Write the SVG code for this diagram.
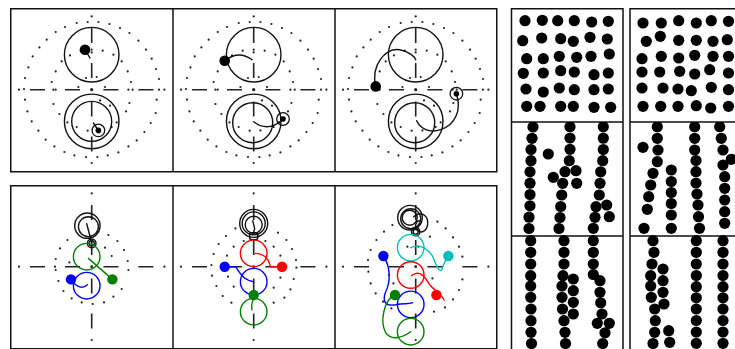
<svg xmlns="http://www.w3.org/2000/svg" xmlns:xlink="http://www.w3.org/1999/xlink" width="735" height="349" viewBox="0 0 735 349">
  <style>
    .frame { fill: #ffffff; stroke: #111; stroke-width: 1.5; }
    .axis { fill: none; stroke: #222; stroke-width: 1.6; }
    .pt { fill: #222; }
    .ring { fill: none; stroke: #111; stroke-width: 1.4; }
    .trail { fill: none; stroke-width: 1.4; stroke-linecap: round; }
    .disc { fill: #000; }
    .k { stroke: #111; }
    .g { stroke: #008000; }
    .gf { fill: #008000; }
    .b { stroke: #0000ff; }
    .bf { fill: #0000ff; }
    .r { stroke: #ff0000; }
    .rf { fill: #ff0000; }
    .c { stroke: #00bfbf; }
    .cf { fill: #00bfbf; }
  </style>
  <defs>
    <!-- dashed cross-hair through a panel centre -->
    <path id="cross" class="axis" d="M-61.7 0h15M-26.7 0h15M11.7 0h15M46.7 0h15M0 -61.7v15M0 -26.7v15M0 11.7v15M0 46.7v15"/>
    <!-- sample points of the upper panels -->
    <g id="topDots" class="pt">
      <circle cx="0" cy="-73.3" r="1.1"/><circle cx="-15" cy="-66.7" r="1.1"/><circle cx="-4" cy="-67.7" r="1.1"/>
      <circle cx="6.7" cy="-67.7" r="1.1"/><circle cx="17.7" cy="-65.7" r="1.1"/><circle cx="-26.7" cy="-62.7" r="1.1"/>
      <circle cx="28.3" cy="-61.7" r="1.1"/><circle cx="-36" cy="-57.7" r="1.1"/><circle cx="37.7" cy="-56.7" r="1.1"/>
      <circle cx="-45" cy="-50" r="1.1"/><circle cx="46.7" cy="-49" r="1.1"/><circle cx="-52.3" cy="-42.3" r="1.1"/>
      <circle cx="54.3" cy="-40" r="1.1"/><circle cx="-59" cy="-33.3" r="1.1"/><circle cx="60" cy="-31" r="1.1"/>
      <circle cx="-63.3" cy="-22.3" r="1.1"/><circle cx="64.3" cy="-20.7" r="1.1"/><circle cx="-66.7" cy="-11.7" r="1.1"/>
      <circle cx="67.3" cy="-10.7" r="1.1"/><circle cx="-72.7" cy="0" r="1.1"/><circle cx="-67.7" cy="-0.7" r="1.1"/>
      <circle cx="67.3" cy="0" r="1.1"/><circle cx="72.7" cy="0" r="1.1"/><circle cx="-66.7" cy="10" r="1.1"/>
      <circle cx="65" cy="10" r="1.1"/><circle cx="-64.3" cy="21.7" r="1.1"/><circle cx="64" cy="23.3" r="1.1"/>
      <circle cx="-60" cy="31.7" r="1.1"/><circle cx="59" cy="33.3" r="1.1"/><circle cx="-53.3" cy="41" r="1.1"/>
      <circle cx="52.7" cy="42.3" r="1.1"/><circle cx="-46" cy="50" r="1.1"/><circle cx="45" cy="50.7" r="1.1"/>
      <circle cx="-37.3" cy="56.7" r="1.1"/><circle cx="36.7" cy="56.7" r="1.1"/><circle cx="-27.3" cy="62.3" r="1.1"/>
      <circle cx="26.7" cy="62.7" r="1.1"/><circle cx="-17.3" cy="65.7" r="1.1"/><circle cx="16" cy="65.7" r="1.1"/>
      <circle cx="-5.7" cy="67.3" r="1.1"/><circle cx="5.7" cy="67.3" r="1.1"/><circle cx="0" cy="73.3" r="1.1"/>
      <circle cx="-21.7" cy="-34.3" r="1.1"/><circle cx="-30" cy="-28.3" r="1.1"/><circle cx="-36" cy="-18.3" r="1.1"/>
      <circle cx="-40" cy="-7.7" r="1.1"/><circle cx="-38.3" cy="0" r="1.1"/><circle cx="-36" cy="0" r="1.1"/>
      <circle cx="-38.3" cy="14.3" r="1.1"/><circle cx="-32.3" cy="24.3" r="1.1"/><circle cx="-24.3" cy="32.7" r="1.1"/>
      <circle cx="-15" cy="37.3" r="1.1"/><circle cx="-4" cy="41" r="1.1"/><circle cx="6.7" cy="40.7" r="1.1"/>
      <circle cx="8.3" cy="10.7" r="1.1"/><circle cx="18.3" cy="16" r="1.1"/><circle cx="30" cy="-28.3" r="1.1"/>
      <circle cx="36" cy="-18.3" r="1.1"/><circle cx="39.3" cy="-7.7" r="1.1"/><circle cx="36.7" cy="0" r="1.1"/>
      <circle cx="41" cy="0" r="1.1"/><circle cx="37.7" cy="13.3" r="1.1"/><circle cx="34.3" cy="21.7" r="1.1"/>
      <circle cx="25" cy="32.7" r="1.1"/><circle cx="20" cy="37.3" r="1.1"/><circle cx="0" cy="-40" r="1.1"/>
      <circle cx="0" cy="-37.3" r="1.1"/><circle cx="-11" cy="-39" r="1.1"/><circle cx="11" cy="-39" r="1.1"/>
      <circle cx="21.7" cy="-35" r="1.1"/><circle cx="-5.7" cy="-11.7" r="1.1"/><circle cx="5" cy="-12.7" r="1.1"/>
      <circle cx="-13.3" cy="-2.7" r="1.1"/><circle cx="13.3" cy="-2.7" r="1.1"/><circle cx="0" cy="0" r="1.6"/>
    </g>
    <!-- the four far points shared by the lower panels -->
    <g id="farDots" class="pt">
      <circle cx="0" cy="-73.3" r="1.1"/><circle cx="0" cy="73.3" r="1.1"/>
      <circle cx="-72.7" cy="0" r="1.1"/><circle cx="72.7" cy="0" r="1.1"/><circle cx="0" cy="0" r="1.4"/>
    </g>
    <!-- goal marker: ring with a filled centre -->
    <g id="goal">
      <circle r="6.3" fill="none" stroke="#111" stroke-width="1.3"/>
      <circle r="2.8" fill="#000"/>
    </g>
    <clipPath id="clipR1"><rect x="511.5" y="8.5" width="111.5" height="113.5"/></clipPath>
    <clipPath id="clipR2"><rect x="511.5" y="122" width="111.5" height="114"/></clipPath>
    <clipPath id="clipR3"><rect x="511.5" y="236" width="111.5" height="113"/></clipPath>
    <clipPath id="clipS1"><rect x="630" y="8.5" width="106" height="113.5"/></clipPath>
    <clipPath id="clipS2"><rect x="630" y="122" width="106" height="114"/></clipPath>
    <clipPath id="clipS3"><rect x="630" y="236" width="106" height="113"/></clipPath>
  </defs>

  <rect width="735" height="349" fill="#ffffff"/>

  <!-- upper row: single agent -->
  <g id="top-row-frame">
    <rect class="frame" x="10.75" y="8.75" width="486" height="163"/>
    <line x1="173" y1="8.75" x2="173" y2="171.75" stroke="#111" stroke-width="1.5"/>
    <line x1="335" y1="8.75" x2="335" y2="171.75" stroke="#111" stroke-width="1.5"/>
  </g>

  <g id="top-1" transform="translate(91.7 89.7)">
    <use href="#topDots"/>
    <use href="#cross"/>
    <circle class="ring" cx="0" cy="-35" r="27.3"/>
    <circle class="ring" cx="0" cy="31.7" r="27.3"/>
    <circle class="ring" cx="0" cy="31.7" r="20"/>
    <path class="trail k" d="M-6.7 -40L-1.7 -31.7"/>
    <circle class="disc" cx="-6.7" cy="-40" r="5.3"/>
    <path class="trail k" d="M1.7 33.3L6.3 40.3"/>
    <use href="#goal" x="6.7" y="40.7"/>
  </g>

  <g id="top-2" transform="translate(253.7 89.7)">
    <use href="#topDots"/>
    <use href="#cross"/>
    <circle class="ring" cx="0" cy="-35" r="27.3"/>
    <circle class="ring" cx="0" cy="31.7" r="27.3"/>
    <circle class="ring" cx="-1" cy="33" r="20"/>
    <path class="trail k" d="M-29 -29Q-15 -40 -1.7 -30"/>
    <circle class="disc" cx="-29" cy="-29" r="5.3"/>
    <path class="trail k" d="M0 32Q14 43 29 30"/>
    <use href="#goal" x="29.3" y="29.3"/>
  </g>

  <g id="top-3" transform="translate(415.7 89.7)">
    <use href="#topDots"/>
    <use href="#cross"/>
    <circle class="ring" cx="0" cy="-35" r="27.3"/>
    <circle class="ring" cx="0" cy="31.7" r="27.3"/>
    <circle class="ring" cx="-1" cy="33" r="20"/>
    <path class="trail k" d="M-40 -3.3C-45 -25 -30 -42 -16 -40C-6 -38 -1 -33 0 -30"/>
    <circle class="disc" cx="-40" cy="-3.3" r="5.3"/>
    <path class="trail k" d="M40.7 4C46 20 40 35 25 40C13 44 4 38 1 31"/>
    <use href="#goal" x="40.7" y="4"/>
  </g>

  <!-- lower row: several agents -->
  <g id="bottom-row-frame">
    <rect class="frame" x="10.75" y="185.75" width="486" height="163"/>
    <line x1="173" y1="185.75" x2="173" y2="349" stroke="#111" stroke-width="1.5"/>
    <line x1="335" y1="185.75" x2="335" y2="349" stroke="#111" stroke-width="1.5"/>
  </g>

  <g id="bottom-1" transform="translate(91.7 266.7)">
    <use href="#farDots"/>
    <g class="pt">
      <circle cx="-24.3" cy="-26.7" r="1.1"/><circle cx="-31.7" cy="-18.3" r="1.1"/><circle cx="-36" cy="-7.7" r="1.1"/>
      <circle cx="-36.7" cy="0" r="1.1"/><circle cx="-36" cy="3.3" r="1.1"/><circle cx="-33.3" cy="14.3" r="1.1"/>
      <circle cx="-28.3" cy="24.3" r="1.1"/><circle cx="-20" cy="31.7" r="1.1"/><circle cx="-10" cy="35.7" r="1.1"/>
      <circle cx="1" cy="37.3" r="1.1"/><circle cx="12.3" cy="35.7" r="1.1"/><circle cx="21.7" cy="30" r="1.1"/>
      <circle cx="30" cy="22.3" r="1.1"/><circle cx="36.7" cy="3.3" r="1.1"/><circle cx="36" cy="-5.7" r="1.1"/>
      <circle cx="32.3" cy="-16.7" r="1.1"/><circle cx="25.7" cy="-25.7" r="1.1"/><circle cx="16.7" cy="-31.7" r="1.1"/>
      <circle cx="13.3" cy="-19" r="1.1"/><circle cx="20" cy="-10.7" r="1.1"/><circle cx="-22.3" cy="-4.3" r="1.1"/>
    </g>
    <use href="#cross"/>
    <circle class="ring" cx="-4.3" cy="-41" r="12.7"/>
    <circle class="ring" cx="-3.3" cy="-40" r="10"/>
    <path class="trail k" d="M-5 -43L0 -24"/>
    <circle class="ring" cx="0" cy="-23.3" r="4.3"/>
    <circle class="ring" cx="0" cy="-23.3" r="2.6"/>
    <circle class="trail g" cx="-5" cy="-10" r="13.3"/>
    <path class="trail g" d="M-3.3 -8.3L20.7 12.7"/>
    <circle class="gf" cx="20.7" cy="12.7" r="5.2"/>
    <circle class="trail b" cx="-5" cy="19" r="13.3"/>
    <path class="trail b" d="M-20.7 12.7Q-12 25 -4.3 18"/>
    <circle class="bf" cx="-20.7" cy="12.7" r="5.2"/>
  </g>

  <g id="bottom-2" transform="translate(253.7 266.7)">
    <use href="#farDots"/>
    <g class="pt">
      <circle cx="-18.3" cy="-38.3" r="1.1"/><circle cx="-27.7" cy="-30.7" r="1.1"/><circle cx="-35" cy="-22.7" r="1.1"/>
      <circle cx="-40" cy="-12.7" r="1.1"/><circle cx="-42.3" cy="-1.7" r="1.1"/><circle cx="-41.7" cy="9" r="1.1"/>
      <circle cx="-37.3" cy="19.3" r="1.1"/><circle cx="-31" cy="29.3" r="1.1"/><circle cx="-22.3" cy="36" r="1.1"/>
      <circle cx="24.3" cy="-34" r="1.1"/><circle cx="32.7" cy="-26.7" r="1.1"/><circle cx="38.3" cy="-17.7" r="1.1"/>
      <circle cx="42.3" cy="-6.7" r="1.1"/><circle cx="42.7" cy="1" r="1.1"/><circle cx="40" cy="12.3" r="1.1"/>
      <circle cx="36.7" cy="22.7" r="1.1"/><circle cx="30.7" cy="31" r="1.1"/><circle cx="20" cy="36" r="1.1"/>
      <circle cx="-20" cy="-20" r="1.1"/><circle cx="-26.7" cy="-11" r="1.1"/><circle cx="-25.7" cy="10" r="1.1"/>
      <circle cx="-20" cy="20" r="1.1"/><circle cx="20" cy="-20" r="1.1"/><circle cx="26.7" cy="-11" r="1.1"/>
      <circle cx="26.7" cy="11" r="1.1"/><circle cx="20" cy="21" r="1.1"/><circle cx="-10" cy="-25.7" r="1.1"/>
      <circle cx="11.7" cy="-25.7" r="1.1"/>
    </g>
    <use href="#cross"/>
    <circle class="ring" cx="0" cy="-43.3" r="14"/>
    <circle class="ring" cx="0" cy="-43.3" r="11.5"/>
    <circle class="ring" cx="0" cy="-42" r="8.5"/>
    <path class="trail k" d="M-1 -46L1 -38L-1 -32"/>
    <rect class="ring" x="-4" y="-34" width="8" height="7" rx="2"/>
    <circle class="trail r" cx="0" cy="-13.3" r="13.3"/>
    <path class="trail r" d="M1.7 -13.3C10 -13 15 -8 16.7 0L28.3 0"/>
    <circle class="rf" cx="28.3" cy="0" r="5.2"/>
    <circle class="trail b" cx="0" cy="15" r="13.3"/>
    <path class="trail b" d="M-29 0L-18 0C-12 10 -8 14 0 15"/>
    <circle class="bf" cx="-29" cy="0" r="5.2"/>
    <circle class="trail g" cx="0" cy="45" r="13.3"/>
    <path class="trail g" d="M0 32Q-3 38 -1.7 43"/>
    <circle class="gf" cx="0" cy="28.3" r="5.2"/>
  </g>

  <g id="bottom-3" transform="translate(415.7 266.7)">
    <use href="#farDots"/>
    <g class="pt">
      <circle cx="-23.3" cy="-41.7" r="1.1"/><circle cx="-31.7" cy="-35" r="1.1"/><circle cx="-39.3" cy="-26.7" r="1.1"/>
      <circle cx="-45" cy="-16.7" r="1.1"/><circle cx="-47.7" cy="-6.7" r="1.1"/><circle cx="-47.3" cy="5" r="1.1"/>
      <circle cx="-45" cy="16.7" r="1.1"/><circle cx="-40" cy="26.7" r="1.1"/><circle cx="-32.7" cy="35" r="1.1"/>
      <circle cx="-24.3" cy="41.7" r="1.1"/><circle cx="21.7" cy="-45" r="1.1"/><circle cx="30" cy="-38.3" r="1.1"/>
      <circle cx="37.3" cy="-29.3" r="1.1"/><circle cx="43.3" cy="-20" r="1.1"/><circle cx="46.7" cy="-10" r="1.1"/>
      <circle cx="46.7" cy="12.7" r="1.1"/><circle cx="43.3" cy="23.3" r="1.1"/><circle cx="37.3" cy="32.7" r="1.1"/>
      <circle cx="29.3" cy="40.7" r="1.1"/><circle cx="18.3" cy="45" r="1.1"/><circle cx="-8.3" cy="-20" r="1.1"/>
      <circle cx="2.7" cy="-20" r="1.1"/><circle cx="-26.7" cy="8.3" r="1.1"/><circle cx="-22.3" cy="16.7" r="1.1"/>
      <circle cx="14.3" cy="-30" r="1.1"/><circle cx="16.7" cy="11.7" r="1.1"/>
    </g>
    <use href="#cross"/>
    <circle class="ring" cx="-5.7" cy="-49" r="12.3"/>
    <circle class="ring" cx="-5" cy="-48" r="10"/>
    <circle class="ring" cx="-6" cy="-49" r="7.5"/>
    <path class="trail k" d="M-2 -50C4 -56 12 -52 12 -44C12 -36 6 -33 2 -36C-2 -39 0 -46 4 -46"/>
    <circle class="ring" cx="0" cy="-35" r="4.2"/>
    <circle class="ring" cx="0" cy="-35" r="2.5"/>
    <circle class="trail c" cx="-5" cy="-19" r="13.3"/>
    <path class="trail c" d="M-5 -19C5 -24 15 -16 18 -8C21 0 24 6 26 3C28 -2 30 -8 32.7 -10.7"/>
    <circle class="cf" cx="32.7" cy="-10.7" r="5.2"/>
    <circle class="trail r" cx="-5" cy="8.3" r="13.3"/>
    <path class="trail r" d="M-4.3 9C5 2 10 12 14 18C20 25 26 28 28.3 33.3"/>
    <circle class="rf" cx="20.7" cy="28.3" r="5.2"/>
    <circle class="trail b" cx="-5" cy="37.7" r="13.3"/>
    <path class="trail b" d="M-32.3 -10.7C-25 0 -25 15 -30 25C-34 35 -30 40 -20 38C-12 36 -8 38 -3 36"/>
    <circle class="bf" cx="-32.3" cy="-10.7" r="5.2"/>
    <circle class="trail g" cx="-5" cy="65" r="13.3"/>
    <path class="trail g" d="M-20.7 28.3C-32 33 -36 55 -30 66C-24 75 -12 70 -5 65"/>
    <circle class="gf" cx="-20.7" cy="28.3" r="5.2"/>
  </g>

  <!-- right block: disc packings -->
  <g id="pack-frames" fill="none" stroke="#111" stroke-width="1.5">
    <rect x="511.5" y="8.75" width="111.5" height="341"/>
    <line x1="511.5" y1="122" x2="623" y2="122"/>
    <line x1="511.5" y1="236" x2="623" y2="236"/>
    <rect x="630" y="8.75" width="110" height="341"/>
    <line x1="630" y1="122" x2="735" y2="122"/>
    <line x1="630" y1="236" x2="735" y2="236"/>
  </g>

  <g id="pack-a1" class="disc" clip-path="url(#clipR1)">
    <circle cx="525" cy="20.7" r="5.6"/><circle cx="542.3" cy="20.3" r="5.6"/><circle cx="557.7" cy="20.7" r="5.6"/>
    <circle cx="574.3" cy="20.7" r="5.6"/><circle cx="591.7" cy="22" r="5.6"/><circle cx="608.3" cy="21.3" r="5.6"/>
    <circle cx="522.7" cy="40.7" r="5.6"/><circle cx="541.7" cy="38" r="5.6"/><circle cx="560.7" cy="38.7" r="5.6"/>
    <circle cx="573.3" cy="41.3" r="5.6"/><circle cx="590" cy="37.3" r="5.6"/><circle cx="607.3" cy="39" r="5.6"/>
    <circle cx="526.7" cy="58.7" r="5.6"/><circle cx="543.3" cy="58.7" r="5.6"/><circle cx="559.3" cy="56.3" r="5.6"/>
    <circle cx="576.7" cy="57.3" r="5.6"/><circle cx="591" cy="56.3" r="5.6"/><circle cx="609.3" cy="54" r="5.6"/>
    <circle cx="523.3" cy="73.3" r="5.6"/><circle cx="543.3" cy="73" r="5.6"/><circle cx="560.7" cy="70.7" r="5.6"/>
    <circle cx="574.3" cy="72" r="5.6"/><circle cx="594" cy="74.7" r="5.6"/><circle cx="608.3" cy="73" r="5.6"/>
    <circle cx="526" cy="89" r="5.6"/><circle cx="543.3" cy="92" r="5.6"/><circle cx="559.3" cy="88" r="5.6"/>
    <circle cx="574.3" cy="89.7" r="5.6"/><circle cx="594" cy="89.7" r="5.6"/><circle cx="608.3" cy="89" r="5.6"/>
    <circle cx="526.7" cy="106.3" r="5.6"/><circle cx="540" cy="106.3" r="5.6"/><circle cx="560.7" cy="106.3" r="5.6"/>
    <circle cx="573.3" cy="106.3" r="5.6"/><circle cx="594" cy="107.3" r="5.6"/><circle cx="610.7" cy="107.3" r="5.6"/>
  </g>

  <g id="pack-a2" class="disc" clip-path="url(#clipR2)">
    <circle cx="533" cy="127" r="5.6"/><circle cx="532" cy="138.3" r="5.6"/><circle cx="531" cy="149.5" r="5.6"/>
    <circle cx="531" cy="160.7" r="5.6"/><circle cx="530" cy="171.8" r="5.6"/><circle cx="530" cy="183.2" r="5.6"/>
    <circle cx="530" cy="194.5" r="5.6"/><circle cx="530" cy="205.8" r="5.6"/><circle cx="529" cy="217.2" r="5.6"/>
    <circle cx="529" cy="228.5" r="5.6"/><circle cx="548.3" cy="154" r="5.6"/>
    <circle cx="570" cy="126.7" r="5.6"/><circle cx="570" cy="138" r="5.6"/><circle cx="570" cy="149.3" r="5.6"/>
    <circle cx="569.3" cy="160.7" r="5.6"/><circle cx="565" cy="171.7" r="5.6"/><circle cx="576" cy="170.7" r="5.6"/>
    <circle cx="553.3" cy="177.3" r="5.6"/><circle cx="562.7" cy="183.3" r="5.6"/><circle cx="576.7" cy="183.3" r="5.6"/>
    <circle cx="561.7" cy="195" r="5.6"/><circle cx="560.7" cy="206.5" r="5.6"/><circle cx="560" cy="217.5" r="5.6"/>
    <circle cx="559" cy="228.5" r="5.6"/>
    <circle cx="603.3" cy="126.7" r="5.6"/><circle cx="603.3" cy="138.2" r="5.6"/><circle cx="603.3" cy="149.5" r="5.6"/>
    <circle cx="602.7" cy="160.7" r="5.6"/><circle cx="600.7" cy="171.8" r="5.6"/><circle cx="600" cy="183.3" r="5.6"/>
    <circle cx="599.3" cy="195" r="5.6"/><circle cx="596" cy="206.7" r="5.6"/><circle cx="606.7" cy="205" r="5.6"/>
    <circle cx="595" cy="217.3" r="5.6"/><circle cx="609.3" cy="216.7" r="5.6"/><circle cx="593.3" cy="228.3" r="5.6"/>
    <!-- discs of the next box reaching over the edge -->
    <circle cx="530.7" cy="240.7" r="5.6"/><circle cx="563.3" cy="240.7" r="5.6"/><circle cx="593.3" cy="240.7" r="5.6"/>
  </g>

  <g id="pack-a3" class="disc" clip-path="url(#clipR3)">
    <circle cx="530.7" cy="240.7" r="5.6"/><circle cx="530.7" cy="252.3" r="5.6"/><circle cx="530.7" cy="264" r="5.6"/>
    <circle cx="530.7" cy="275.7" r="5.6"/><circle cx="530.7" cy="286" r="5.6"/><circle cx="530.7" cy="297.3" r="5.6"/>
    <circle cx="531" cy="309" r="5.6"/><circle cx="531" cy="320.7" r="5.6"/><circle cx="531" cy="332.3" r="5.6"/>
    <circle cx="531.5" cy="343.5" r="5.6"/>
    <circle cx="564" cy="240.7" r="5.6"/><circle cx="564" cy="252.3" r="5.6"/><circle cx="564" cy="264" r="5.6"/>
    <circle cx="563" cy="275.7" r="5.6"/><circle cx="562" cy="286" r="5.6"/><circle cx="562" cy="297.3" r="5.6"/>
    <circle cx="562.5" cy="309" r="5.6"/><circle cx="564" cy="320.7" r="5.6"/><circle cx="565" cy="332.3" r="5.6"/>
    <circle cx="565.5" cy="343.5" r="5.6"/>
    <circle cx="573.3" cy="279" r="5.6"/><circle cx="573.3" cy="290.7" r="5.6"/><circle cx="573.3" cy="302.3" r="5.6"/>
    <circle cx="573.3" cy="314" r="5.6"/>
    <circle cx="593.3" cy="240.7" r="5.6"/><circle cx="593.3" cy="252.3" r="5.6"/><circle cx="593.3" cy="264" r="5.6"/>
    <circle cx="593.3" cy="274.5" r="5.6"/><circle cx="600" cy="280.7" r="5.6"/><circle cx="600" cy="292.3" r="5.6"/>
    <circle cx="600.7" cy="302.8" r="5.6"/><circle cx="602" cy="314" r="5.6"/><circle cx="597.3" cy="323.3" r="5.6"/>
    <circle cx="609.3" cy="323.3" r="5.6"/><circle cx="605" cy="332.8" r="5.6"/><circle cx="602.7" cy="343.5" r="5.6"/>
  </g>

  <g id="pack-b1" class="disc" clip-path="url(#clipS1)">
    <circle cx="643" cy="23" r="5.6"/><circle cx="661.3" cy="23" r="5.6"/><circle cx="678.7" cy="20.7" r="5.6"/>
    <circle cx="696.3" cy="23" r="5.6"/><circle cx="711.3" cy="20.7" r="5.6"/><circle cx="728.5" cy="21.3" r="5.6"/>
    <circle cx="646.3" cy="41.3" r="5.6"/><circle cx="660.3" cy="36.3" r="5.6"/><circle cx="678.7" cy="40.3" r="5.6"/>
    <circle cx="696.3" cy="40.3" r="5.6"/><circle cx="713" cy="41.3" r="5.6"/><circle cx="727.3" cy="39.7" r="5.6"/>
    <circle cx="642" cy="58.7" r="5.6"/><circle cx="661.3" cy="56.3" r="5.6"/><circle cx="678.7" cy="58" r="5.6"/>
    <circle cx="694.7" cy="55.3" r="5.6"/><circle cx="713" cy="56.3" r="5.6"/><circle cx="728.5" cy="56.3" r="5.6"/>
    <circle cx="642" cy="72" r="5.6"/><circle cx="659.7" cy="72" r="5.6"/><circle cx="679.7" cy="71.3" r="5.6"/>
    <circle cx="694.7" cy="74" r="5.6"/><circle cx="709.7" cy="69.7" r="5.6"/><circle cx="728.5" cy="73" r="5.6"/>
    <circle cx="642" cy="88" r="5.6"/><circle cx="663" cy="88" r="5.6"/><circle cx="678" cy="89" r="5.6"/>
    <circle cx="691.3" cy="90.7" r="5.6"/><circle cx="711.3" cy="87.3" r="5.6"/><circle cx="728.5" cy="89.7" r="5.6"/>
    <circle cx="643" cy="106.3" r="5.6"/><circle cx="660.7" cy="106.3" r="5.6"/><circle cx="678" cy="106.3" r="5.6"/>
    <circle cx="696.3" cy="105.7" r="5.6"/><circle cx="710.7" cy="108" r="5.6"/><circle cx="728.5" cy="106.3" r="5.6"/>
  </g>

  <g id="pack-b2" class="disc" clip-path="url(#clipS2)">
    <circle cx="657.3" cy="126.7" r="5.6"/><circle cx="657.3" cy="138.3" r="5.6"/><circle cx="658" cy="150" r="5.6"/>
    <circle cx="657.3" cy="161.7" r="5.6"/><circle cx="653" cy="173.3" r="5.6"/><circle cx="650.7" cy="185" r="5.6"/>
    <circle cx="648.7" cy="196.7" r="5.6"/><circle cx="647.3" cy="209.3" r="5.6"/><circle cx="644" cy="228.3" r="5.6"/>
    <circle cx="643" cy="147.3" r="5.6"/>
    <circle cx="671.3" cy="170" r="5.6"/><circle cx="671.3" cy="181.5" r="5.6"/><circle cx="671.3" cy="192.5" r="5.6"/>
    <circle cx="671.3" cy="203.5" r="5.6"/><circle cx="671.3" cy="215" r="5.6"/><circle cx="671.3" cy="228.3" r="5.6"/>
    <circle cx="694.7" cy="126.7" r="5.6"/><circle cx="694.7" cy="138.3" r="5.6"/><circle cx="694.7" cy="150" r="5.6"/>
    <circle cx="696" cy="160.5" r="5.6"/><circle cx="696" cy="171.7" r="5.6"/><circle cx="696" cy="183" r="5.6"/>
    <circle cx="697" cy="194" r="5.6"/><circle cx="698" cy="205" r="5.6"/><circle cx="698.5" cy="216.7" r="5.6"/>
    <circle cx="699.5" cy="228.3" r="5.6"/>
    <circle cx="719.7" cy="126.7" r="5.6"/><circle cx="721.3" cy="138.3" r="5.6"/><circle cx="723" cy="150" r="5.6"/>
    <circle cx="731.3" cy="159.3" r="5.6"/><circle cx="723" cy="165" r="5.6"/><circle cx="724.7" cy="176.7" r="5.6"/>
    <circle cx="724.7" cy="188.3" r="5.6"/><circle cx="724.7" cy="200" r="5.6"/><circle cx="724.7" cy="211.7" r="5.6"/>
    <circle cx="724.7" cy="223.3" r="5.6"/>
    <!-- discs of the next box reaching over the edge -->
    <circle cx="653" cy="240.7" r="5.6"/><circle cx="696.3" cy="240.7" r="5.6"/><circle cx="723" cy="240.7" r="5.6"/>
  </g>

  <g id="pack-b3" class="disc" clip-path="url(#clipS3)">
    <circle cx="653" cy="240.7" r="5.6"/><circle cx="654" cy="252.3" r="5.6"/><circle cx="652" cy="264" r="5.6"/>
    <circle cx="650.7" cy="275.7" r="5.6"/><circle cx="650.7" cy="286" r="5.6"/><circle cx="651.3" cy="297.3" r="5.6"/>
    <circle cx="654.7" cy="309" r="5.6"/><circle cx="655.3" cy="320.7" r="5.6"/><circle cx="654.7" cy="332.3" r="5.6"/>
    <circle cx="653" cy="343.5" r="5.6"/>
    <circle cx="663" cy="269" r="5.6"/><circle cx="663" cy="280.7" r="5.6"/><circle cx="663" cy="292.3" r="5.6"/>
    <circle cx="664" cy="304" r="5.6"/><circle cx="668.7" cy="330.7" r="5.6"/><circle cx="669.7" cy="342.3" r="5.6"/>
    <circle cx="696.3" cy="240.7" r="5.6"/><circle cx="696.3" cy="252.3" r="5.6"/><circle cx="696.3" cy="264" r="5.6"/>
    <circle cx="696.3" cy="275.5" r="5.6"/><circle cx="696.3" cy="286.7" r="5.6"/><circle cx="696.3" cy="297.8" r="5.6"/>
    <circle cx="696.3" cy="309" r="5.6"/><circle cx="696.3" cy="320.5" r="5.6"/><circle cx="696.3" cy="332" r="5.6"/>
    <circle cx="696.3" cy="343.3" r="5.6"/>
    <circle cx="723" cy="240.7" r="5.6"/><circle cx="723" cy="252.3" r="5.6"/><circle cx="723" cy="264" r="5.6"/>
    <circle cx="723" cy="275.5" r="5.6"/><circle cx="723" cy="286.7" r="5.6"/><circle cx="723" cy="297.8" r="5.6"/>
    <circle cx="723" cy="309" r="5.6"/><circle cx="723" cy="320.5" r="5.6"/><circle cx="723" cy="332" r="5.6"/>
    <circle cx="723" cy="343.3" r="5.6"/>
  </g>
</svg>
